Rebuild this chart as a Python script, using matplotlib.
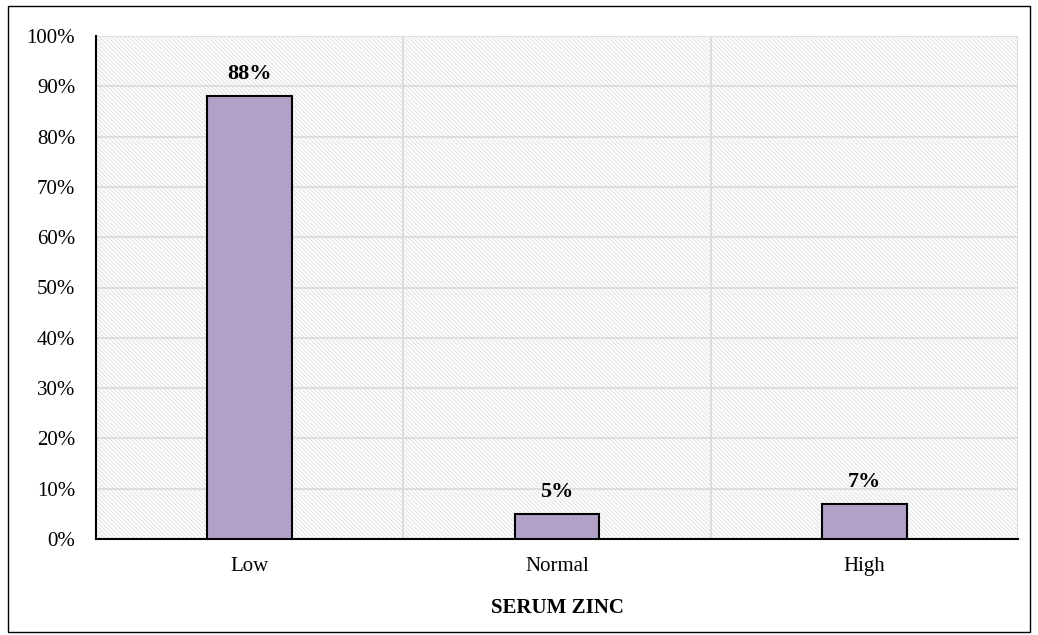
import matplotlib
matplotlib.use("Agg")
import matplotlib.pyplot as plt
from matplotlib.patches import Rectangle
from matplotlib.ticker import FixedLocator, PercentFormatter

categories = ["Low", "Normal", "High"]
values = [88, 5, 7]
labels = ["88%", "5%", "7%"]

plt.rcParams['font.family'] = ['Liberation Serif', 'DejaVu Serif']
plt.rcParams['hatch.linewidth'] = 0.9
plt.rcParams['hatch.color'] = '#e6e6e6'

fig = plt.figure(figsize=(10.38, 6.35), dpi=100)
ax = fig.add_axes([96/1038, 96/635, (1018-96)/1038, (539-36)/635])

# outer border
fig.patches.append(Rectangle((8/1038, 3/635), (1030-8)/1038, (627-3)/635 + 0.003,
                             transform=fig.transFigure, fill=False, edgecolor='black', lw=1.0))

# hatched background
bg = Rectangle((0, 0), 1, 1, transform=ax.transAxes, facecolor='white',
               edgecolor='#e6e6e6', hatch='\\' * 8, lw=0, zorder=0)
ax.add_patch(bg)

x = list(range(len(categories)))
ax.bar(x, values, width=0.275, color='#b1a0c7', edgecolor='black', linewidth=1.5, zorder=3)
for xi, v, lab in zip(x, values, labels):
    ax.text(xi, v + 2.4, lab, ha='center', va='bottom', fontsize=16, fontweight='bold', zorder=4)

ax.set_xlim(-0.5, 2.5)
ax.set_ylim(0, 100)
ax.set_yticks(range(0, 101, 10))
ax.yaxis.set_major_formatter(PercentFormatter(decimals=0))
ax.set_xticks(x)
ax.set_xticklabels(categories)
ax.xaxis.set_minor_locator(FixedLocator([0.5, 1.5, 2.5]))
ax.grid(axis='y', which='major', color='#d9d9d9', lw=1.2, zorder=1)
ax.grid(axis='x', which='minor', color='#d9d9d9', lw=1.2, zorder=1)
ax.set_axisbelow(True)
ax.tick_params(axis='both', which='both', length=0, labelsize=15)
ax.tick_params(axis='x', pad=13)
ax.tick_params(axis='y', pad=15)
for s in ['top', 'right']:
    ax.spines[s].set_visible(False)
ax.spines['left'].set_linewidth(1.5)
ax.spines['bottom'].set_linewidth(1.5)
ax.set_xlabel("SERUM ZINC", fontsize=15, fontweight='bold', labelpad=16)

fig.savefig("out.png", dpi=100)
